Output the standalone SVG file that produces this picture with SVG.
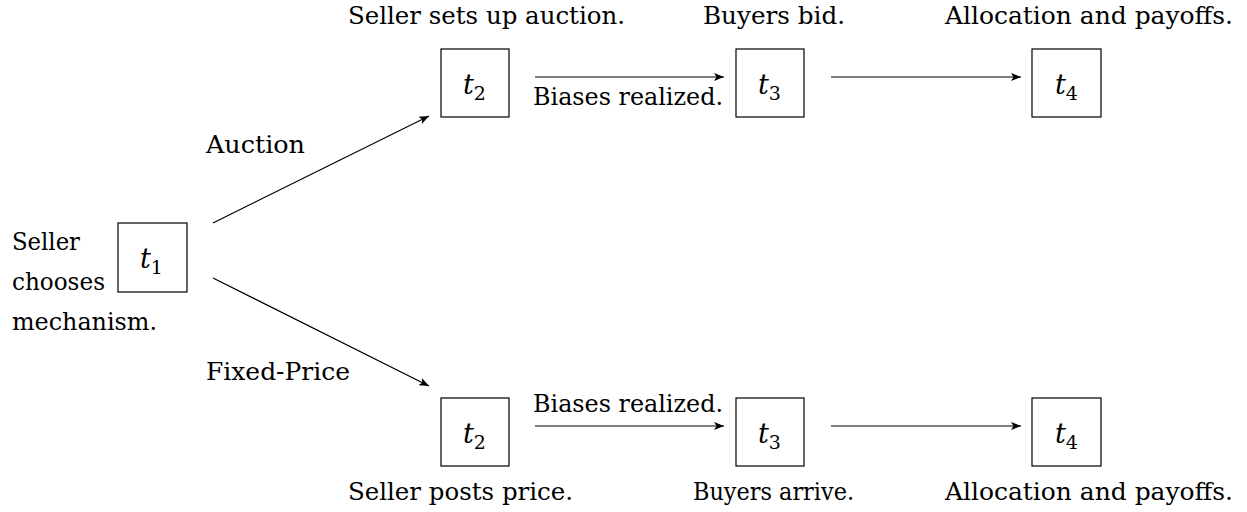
<svg xmlns="http://www.w3.org/2000/svg" width="1247" height="512" viewBox="0 0 1247 512">
<defs>
<marker id="ah" markerWidth="10" markerHeight="8" refX="10" refY="4" orient="auto" markerUnits="userSpaceOnUse">
<path d="M0,0 L10,4 L0,8 L2.5,4 Z" fill="#000"/>
</marker>
</defs>
<style>
.lbl{font-size:24px;fill:#000}
.box{fill:#fff;stroke:#000;stroke-width:1.2}
.m{font-style:italic;font-size:27px;fill:#000}
.s{font-style:normal;font-size:19px}
.c{stroke:#000;stroke-width:1.2;fill:none;marker-end:url(#ah)}
</style>
<rect width="1247" height="512" fill="#fff"/>
<g id="connectors">
<line class="c" x1="213" y1="223" x2="429" y2="116"/>
<line class="c" x1="213" y1="278" x2="429" y2="386"/>
<line class="c" x1="535" y1="77" x2="724" y2="77"/>
<line class="c" x1="831" y1="77" x2="1021" y2="77"/>
<line class="c" x1="535" y1="426" x2="724" y2="426"/>
<line class="c" x1="831" y1="426" x2="1021" y2="426"/>
</g>
<g id="labels" font-family="DejaVu Serif, Liberation Serif, serif">
<text class="lbl" x="206" y="153" textLength="99" lengthAdjust="spacingAndGlyphs">Auction</text>
<text class="lbl" x="206" y="380" textLength="144" lengthAdjust="spacingAndGlyphs">Fixed-Price</text>
<text class="lbl" x="533" y="105" textLength="190" lengthAdjust="spacingAndGlyphs">Biases realized.</text>
<text class="lbl" x="533" y="412" textLength="190" lengthAdjust="spacingAndGlyphs">Biases realized.</text>
<text class="lbl" x="12" y="250" textLength="68" lengthAdjust="spacingAndGlyphs">Seller</text>
<text class="lbl" x="12" y="290" textLength="93" lengthAdjust="spacingAndGlyphs">chooses</text>
<text class="lbl" x="12" y="330" textLength="145" lengthAdjust="spacingAndGlyphs">mechanism.</text>
<text class="lbl" x="348" y="24" textLength="277" lengthAdjust="spacingAndGlyphs">Seller sets up auction.</text>
<text class="lbl" x="703" y="24" textLength="142" lengthAdjust="spacingAndGlyphs">Buyers bid.</text>
<text class="lbl" x="945" y="24" textLength="288" lengthAdjust="spacingAndGlyphs">Allocation and payoffs.</text>
<text class="lbl" x="348" y="500" textLength="225" lengthAdjust="spacingAndGlyphs">Seller posts price.</text>
<text class="lbl" x="693" y="500" textLength="161" lengthAdjust="spacingAndGlyphs">Buyers arrive.</text>
<text class="lbl" x="945" y="500" textLength="288" lengthAdjust="spacingAndGlyphs">Allocation and payoffs.</text>
</g>
<g font-family="DejaVu Serif, Liberation Serif, serif">
<g id="t1"><rect class="box" x="118" y="223" width="69" height="69"/><text class="m" x="140" y="268">t<tspan class="s" dy="6">1</tspan></text></g>
<g id="t2a"><rect class="box" x="441" y="49" width="68" height="68"/><text class="m" x="463" y="94">t<tspan class="s" dy="6">2</tspan></text></g>
<g id="t3a"><rect class="box" x="736" y="49" width="68" height="68"/><text class="m" x="758" y="94">t<tspan class="s" dy="6">3</tspan></text></g>
<g id="t4a"><rect class="box" x="1032" y="49" width="69" height="68"/><text class="m" x="1055" y="94">t<tspan class="s" dy="6">4</tspan></text></g>
<g id="t2b"><rect class="box" x="441" y="398" width="68" height="68"/><text class="m" x="463" y="443">t<tspan class="s" dy="6">2</tspan></text></g>
<g id="t3b"><rect class="box" x="736" y="398" width="68" height="68"/><text class="m" x="758" y="443">t<tspan class="s" dy="6">3</tspan></text></g>
<g id="t4b"><rect class="box" x="1032" y="398" width="69" height="68"/><text class="m" x="1055" y="443">t<tspan class="s" dy="6">4</tspan></text></g>
</g>
</svg>
